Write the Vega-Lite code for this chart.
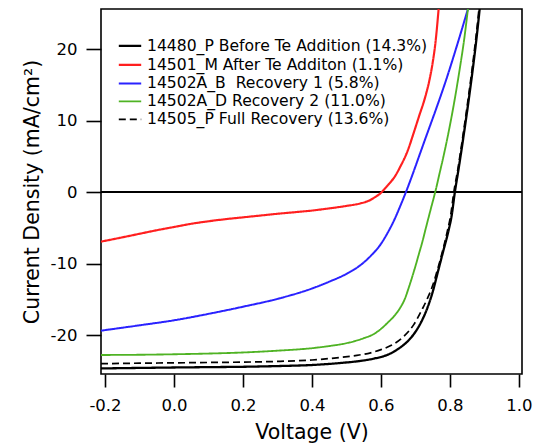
{
  "$schema": "https://vega.github.io/schema/vega-lite/v6.json",
  "width": 421,
  "height": 365,
  "autosize": {"type": "none"},
  "padding": {"left": 101, "top": 9, "right": 16, "bottom": 73},
  "background": "white",
  "config": {
    "view": {"stroke": "black", "strokeWidth": 1.6},
    "axis": {
      "grid": false,
      "domain": false,
      "ticks": true,
      "tickColor": "black",
      "tickWidth": 1.6,
      "labelFont": "DejaVu Sans",
      "labelFontSize": 16.5,
      "labelColor": "black",
      "titleFont": "DejaVu Sans",
      "titleFontSize": 20.5,
      "titleFontWeight": "normal",
      "titleColor": "black"
    },
    "legend": {
      "labelFont": "DejaVu Sans",
      "labelFontSize": 15.6,
      "labelColor": "black",
      "labelLimit": 500
    }
  },
  "data": {
    "values": [
      {"s": "14480_P Before Te Addition (14.3%)", "v": -0.2116, "j": -24.63},
      {"s": "14480_P Before Te Addition (14.3%)", "v": -0.1, "j": -24.56},
      {"s": "14480_P Before Te Addition (14.3%)", "v": 0.0, "j": -24.5},
      {"s": "14480_P Before Te Addition (14.3%)", "v": 0.1, "j": -24.45},
      {"s": "14480_P Before Te Addition (14.3%)", "v": 0.2, "j": -24.4},
      {"s": "14480_P Before Te Addition (14.3%)", "v": 0.3, "j": -24.3},
      {"s": "14480_P Before Te Addition (14.3%)", "v": 0.4, "j": -24.15},
      {"s": "14480_P Before Te Addition (14.3%)", "v": 0.48, "j": -23.88},
      {"s": "14480_P Before Te Addition (14.3%)", "v": 0.54, "j": -23.58},
      {"s": "14480_P Before Te Addition (14.3%)", "v": 0.58, "j": -23.25},
      {"s": "14480_P Before Te Addition (14.3%)", "v": 0.62, "j": -22.7},
      {"s": "14480_P Before Te Addition (14.3%)", "v": 0.65, "j": -21.9},
      {"s": "14480_P Before Te Addition (14.3%)", "v": 0.68, "j": -20.7},
      {"s": "14480_P Before Te Addition (14.3%)", "v": 0.7, "j": -19.5},
      {"s": "14480_P Before Te Addition (14.3%)", "v": 0.72, "j": -17.8},
      {"s": "14480_P Before Te Addition (14.3%)", "v": 0.735, "j": -16.1},
      {"s": "14480_P Before Te Addition (14.3%)", "v": 0.75, "j": -13.9},
      {"s": "14480_P Before Te Addition (14.3%)", "v": 0.765, "j": -11.1},
      {"s": "14480_P Before Te Addition (14.3%)", "v": 0.78, "j": -8.3},
      {"s": "14480_P Before Te Addition (14.3%)", "v": 0.795, "j": -5.5},
      {"s": "14480_P Before Te Addition (14.3%)", "v": 0.805, "j": -3.2},
      {"s": "14480_P Before Te Addition (14.3%)", "v": 0.814, "j": 0.0},
      {"s": "14480_P Before Te Addition (14.3%)", "v": 0.825, "j": 3.3},
      {"s": "14480_P Before Te Addition (14.3%)", "v": 0.84, "j": 8.1},
      {"s": "14480_P Before Te Addition (14.3%)", "v": 0.855, "j": 13.2},
      {"s": "14480_P Before Te Addition (14.3%)", "v": 0.867, "j": 17.6},
      {"s": "14480_P Before Te Addition (14.3%)", "v": 0.877, "j": 21.6},
      {"s": "14480_P Before Te Addition (14.3%)", "v": 0.886, "j": 25.64},

      {"s": "14501_M After Te Additon (1.1%)", "v": -0.2116, "j": -6.9},
      {"s": "14501_M After Te Additon (1.1%)", "v": -0.15, "j": -6.3},
      {"s": "14501_M After Te Additon (1.1%)", "v": -0.1, "j": -5.8},
      {"s": "14501_M After Te Additon (1.1%)", "v": -0.05, "j": -5.3},
      {"s": "14501_M After Te Additon (1.1%)", "v": 0.0, "j": -4.85},
      {"s": "14501_M After Te Additon (1.1%)", "v": 0.05, "j": -4.4},
      {"s": "14501_M After Te Additon (1.1%)", "v": 0.1, "j": -4.05},
      {"s": "14501_M After Te Additon (1.1%)", "v": 0.15, "j": -3.75},
      {"s": "14501_M After Te Additon (1.1%)", "v": 0.2, "j": -3.5},
      {"s": "14501_M After Te Additon (1.1%)", "v": 0.25, "j": -3.25},
      {"s": "14501_M After Te Additon (1.1%)", "v": 0.3, "j": -3.0},
      {"s": "14501_M After Te Additon (1.1%)", "v": 0.35, "j": -2.78},
      {"s": "14501_M After Te Additon (1.1%)", "v": 0.4, "j": -2.55},
      {"s": "14501_M After Te Additon (1.1%)", "v": 0.45, "j": -2.25},
      {"s": "14501_M After Te Additon (1.1%)", "v": 0.5, "j": -1.9},
      {"s": "14501_M After Te Additon (1.1%)", "v": 0.54, "j": -1.55},
      {"s": "14501_M After Te Additon (1.1%)", "v": 0.568, "j": -1.1},
      {"s": "14501_M After Te Additon (1.1%)", "v": 0.585, "j": -0.6},
      {"s": "14501_M After Te Additon (1.1%)", "v": 0.597, "j": -0.2},
      {"s": "14501_M After Te Additon (1.1%)", "v": 0.607, "j": 0.3},
      {"s": "14501_M After Te Additon (1.1%)", "v": 0.62, "j": 1.0},
      {"s": "14501_M After Te Additon (1.1%)", "v": 0.64, "j": 2.2},
      {"s": "14501_M After Te Additon (1.1%)", "v": 0.655, "j": 3.5},
      {"s": "14501_M After Te Additon (1.1%)", "v": 0.678, "j": 5.9},
      {"s": "14501_M After Te Additon (1.1%)", "v": 0.694, "j": 8.2},
      {"s": "14501_M After Te Additon (1.1%)", "v": 0.71, "j": 10.6},
      {"s": "14501_M After Te Additon (1.1%)", "v": 0.728, "j": 13.3},
      {"s": "14501_M After Te Additon (1.1%)", "v": 0.74, "j": 15.6},
      {"s": "14501_M After Te Additon (1.1%)", "v": 0.75, "j": 18.2},
      {"s": "14501_M After Te Additon (1.1%)", "v": 0.758, "j": 21.0},
      {"s": "14501_M After Te Additon (1.1%)", "v": 0.767, "j": 25.64},

      {"s": "14502A_B\u00a0 Recovery 1 (5.8%)", "v": -0.2116, "j": -19.35},
      {"s": "14502A_B\u00a0 Recovery 1 (5.8%)", "v": -0.1, "j": -18.6},
      {"s": "14502A_B\u00a0 Recovery 1 (5.8%)", "v": 0.0, "j": -17.9},
      {"s": "14502A_B\u00a0 Recovery 1 (5.8%)", "v": 0.1, "j": -17.0},
      {"s": "14502A_B\u00a0 Recovery 1 (5.8%)", "v": 0.2, "j": -16.0},
      {"s": "14502A_B\u00a0 Recovery 1 (5.8%)", "v": 0.3, "j": -14.9},
      {"s": "14502A_B\u00a0 Recovery 1 (5.8%)", "v": 0.4, "j": -13.45},
      {"s": "14502A_B\u00a0 Recovery 1 (5.8%)", "v": 0.45, "j": -12.5},
      {"s": "14502A_B\u00a0 Recovery 1 (5.8%)", "v": 0.5, "j": -11.4},
      {"s": "14502A_B\u00a0 Recovery 1 (5.8%)", "v": 0.54, "j": -10.2},
      {"s": "14502A_B\u00a0 Recovery 1 (5.8%)", "v": 0.57, "j": -8.9},
      {"s": "14502A_B\u00a0 Recovery 1 (5.8%)", "v": 0.6, "j": -7.2},
      {"s": "14502A_B\u00a0 Recovery 1 (5.8%)", "v": 0.62, "j": -5.6},
      {"s": "14502A_B\u00a0 Recovery 1 (5.8%)", "v": 0.64, "j": -3.7},
      {"s": "14502A_B\u00a0 Recovery 1 (5.8%)", "v": 0.656, "j": -1.9},
      {"s": "14502A_B\u00a0 Recovery 1 (5.8%)", "v": 0.672, "j": 0.0},
      {"s": "14502A_B\u00a0 Recovery 1 (5.8%)", "v": 0.69, "j": 2.3},
      {"s": "14502A_B\u00a0 Recovery 1 (5.8%)", "v": 0.71, "j": 5.0},
      {"s": "14502A_B\u00a0 Recovery 1 (5.8%)", "v": 0.73, "j": 7.7},
      {"s": "14502A_B\u00a0 Recovery 1 (5.8%)", "v": 0.76, "j": 11.7},
      {"s": "14502A_B\u00a0 Recovery 1 (5.8%)", "v": 0.79, "j": 15.9},
      {"s": "14502A_B\u00a0 Recovery 1 (5.8%)", "v": 0.82, "j": 20.5},
      {"s": "14502A_B\u00a0 Recovery 1 (5.8%)", "v": 0.852, "j": 25.64},

      {"s": "14502A_D Recovery 2 (11.0%)", "v": -0.2116, "j": -22.75},
      {"s": "14502A_D Recovery 2 (11.0%)", "v": -0.1, "j": -22.72},
      {"s": "14502A_D Recovery 2 (11.0%)", "v": 0.0, "j": -22.65},
      {"s": "14502A_D Recovery 2 (11.0%)", "v": 0.1, "j": -22.55},
      {"s": "14502A_D Recovery 2 (11.0%)", "v": 0.2, "j": -22.4},
      {"s": "14502A_D Recovery 2 (11.0%)", "v": 0.3, "j": -22.15},
      {"s": "14502A_D Recovery 2 (11.0%)", "v": 0.4, "j": -21.8},
      {"s": "14502A_D Recovery 2 (11.0%)", "v": 0.45, "j": -21.5},
      {"s": "14502A_D Recovery 2 (11.0%)", "v": 0.5, "j": -21.1},
      {"s": "14502A_D Recovery 2 (11.0%)", "v": 0.55, "j": -20.4},
      {"s": "14502A_D Recovery 2 (11.0%)", "v": 0.58, "j": -19.8},
      {"s": "14502A_D Recovery 2 (11.0%)", "v": 0.6, "j": -19.1},
      {"s": "14502A_D Recovery 2 (11.0%)", "v": 0.62, "j": -18.2},
      {"s": "14502A_D Recovery 2 (11.0%)", "v": 0.64, "j": -17.2},
      {"s": "14502A_D Recovery 2 (11.0%)", "v": 0.655, "j": -16.2},
      {"s": "14502A_D Recovery 2 (11.0%)", "v": 0.67, "j": -14.8},
      {"s": "14502A_D Recovery 2 (11.0%)", "v": 0.68, "j": -13.4},
      {"s": "14502A_D Recovery 2 (11.0%)", "v": 0.69, "j": -11.9},
      {"s": "14502A_D Recovery 2 (11.0%)", "v": 0.7, "j": -10.3},
      {"s": "14502A_D Recovery 2 (11.0%)", "v": 0.71, "j": -8.6},
      {"s": "14502A_D Recovery 2 (11.0%)", "v": 0.72, "j": -6.9},
      {"s": "14502A_D Recovery 2 (11.0%)", "v": 0.73, "j": -5.0},
      {"s": "14502A_D Recovery 2 (11.0%)", "v": 0.745, "j": -2.2},
      {"s": "14502A_D Recovery 2 (11.0%)", "v": 0.757, "j": 0.0},
      {"s": "14502A_D Recovery 2 (11.0%)", "v": 0.77, "j": 2.7},
      {"s": "14502A_D Recovery 2 (11.0%)", "v": 0.781, "j": 5.0},
      {"s": "14502A_D Recovery 2 (11.0%)", "v": 0.795, "j": 8.2},
      {"s": "14502A_D Recovery 2 (11.0%)", "v": 0.81, "j": 12.0},
      {"s": "14502A_D Recovery 2 (11.0%)", "v": 0.829, "j": 17.5},
      {"s": "14502A_D Recovery 2 (11.0%)", "v": 0.84, "j": 21.0},
      {"s": "14502A_D Recovery 2 (11.0%)", "v": 0.852, "j": 25.64},

      {"s": "14505_P Full Recovery (13.6%)", "v": -0.2116, "j": -23.97},
      {"s": "14505_P Full Recovery (13.6%)", "v": -0.1, "j": -23.9},
      {"s": "14505_P Full Recovery (13.6%)", "v": 0.0, "j": -23.85},
      {"s": "14505_P Full Recovery (13.6%)", "v": 0.1, "j": -23.8},
      {"s": "14505_P Full Recovery (13.6%)", "v": 0.2, "j": -23.75},
      {"s": "14505_P Full Recovery (13.6%)", "v": 0.3, "j": -23.65},
      {"s": "14505_P Full Recovery (13.6%)", "v": 0.4, "j": -23.45},
      {"s": "14505_P Full Recovery (13.6%)", "v": 0.48, "j": -23.1},
      {"s": "14505_P Full Recovery (13.6%)", "v": 0.53, "j": -22.8},
      {"s": "14505_P Full Recovery (13.6%)", "v": 0.57, "j": -22.45},
      {"s": "14505_P Full Recovery (13.6%)", "v": 0.6, "j": -22.0},
      {"s": "14505_P Full Recovery (13.6%)", "v": 0.63, "j": -21.4},
      {"s": "14505_P Full Recovery (13.6%)", "v": 0.665, "j": -20.2},
      {"s": "14505_P Full Recovery (13.6%)", "v": 0.695, "j": -18.5},
      {"s": "14505_P Full Recovery (13.6%)", "v": 0.72, "j": -16.3},
      {"s": "14505_P Full Recovery (13.6%)", "v": 0.735, "j": -14.8},
      {"s": "14505_P Full Recovery (13.6%)", "v": 0.75, "j": -13.0},
      {"s": "14505_P Full Recovery (13.6%)", "v": 0.762, "j": -11.1},
      {"s": "14505_P Full Recovery (13.6%)", "v": 0.778, "j": -8.3},
      {"s": "14505_P Full Recovery (13.6%)", "v": 0.792, "j": -5.5},
      {"s": "14505_P Full Recovery (13.6%)", "v": 0.802, "j": -3.2},
      {"s": "14505_P Full Recovery (13.6%)", "v": 0.811, "j": 0.0},
      {"s": "14505_P Full Recovery (13.6%)", "v": 0.823, "j": 3.3},
      {"s": "14505_P Full Recovery (13.6%)", "v": 0.838, "j": 8.1},
      {"s": "14505_P Full Recovery (13.6%)", "v": 0.853, "j": 13.2},
      {"s": "14505_P Full Recovery (13.6%)", "v": 0.865, "j": 17.6},
      {"s": "14505_P Full Recovery (13.6%)", "v": 0.875, "j": 21.6},
      {"s": "14505_P Full Recovery (13.6%)", "v": 0.884, "j": 25.64}
    ]
  },
  "layer": [
    {
      "mark": {"type": "rule", "color": "black", "strokeWidth": 1.6},
      "encoding": {"y": {"datum": 0, "type": "quantitative"}}
    },
    {
      "mark": {"type": "line", "clip": true, "interpolate": "monotone"},
      "encoding": {
        "x": {
          "field": "v",
          "type": "quantitative",
          "scale": {"domain": [-0.2116, 1.0087], "nice": false, "zero": false},
          "axis": {
            "title": "Voltage (V)",
            "values": [-0.2, 0, 0.2, 0.4, 0.6, 0.8, 1.0],
            "labelExpr": "datum.value < 0 ? '-' + format(-datum.value, '.1f') : format(datum.value, '.1f')",
            "tickSize": 13,
            "labelPadding": 10,
            "titlePadding": 9
          }
        },
        "y": {
          "field": "j",
          "type": "quantitative",
          "scale": {"domain": [-25.41, 25.64], "nice": false, "zero": false},
          "axis": {
            "title": "Current Density (mA/cm²)",
            "values": [-20, -10, 0, 10, 20],
            "labelExpr": "datum.value < 0 ? '-' + format(-datum.value, 'd') : format(datum.value, 'd')",
            "tickSize": 15,
            "labelPadding": 9,
            "titlePadding": 8
          }
        },
        "color": {
          "field": "s",
          "type": "nominal",
          "sort": null,
          "scale": {
            "domain": ["14480_P Before Te Addition (14.3%)", "14501_M After Te Additon (1.1%)", "14502A_B\u00a0 Recovery 1 (5.8%)", "14502A_D Recovery 2 (11.0%)", "14505_P Full Recovery (13.6%)"],
            "range": ["#000000", "#ff1f1f", "#2a22ff", "#4fb324", "#000000"]
          },
          "legend": {
            "title": null,
            "orient": "none",
            "legendX": 19.5,
            "legendY": 27.4,
            "padding": 0,
            "symbolType": "M-1.4,0H1.4",
            "symbolSize": 256,
            "symbolStrokeWidth": 2,
            "symbolFillColor": "transparent",
            "labelOffset": 7.5,
            "rowPadding": 0,
            "labelFont": "DejaVu Sans",
            "labelFontSize": 15.6,
            "labelColor": "black",
            "labelLimit": 500
          }
        },
        "strokeDash": {
          "field": "s",
          "type": "nominal",
          "sort": null,
          "scale": {
            "domain": ["14480_P Before Te Addition (14.3%)", "14501_M After Te Additon (1.1%)", "14502A_B\u00a0 Recovery 1 (5.8%)", "14502A_D Recovery 2 (11.0%)", "14505_P Full Recovery (13.6%)"],
            "range": [[1, 0], [1, 0], [1, 0], [1, 0], [7, 4]]
          },
          "legend": {
            "title": null,
            "orient": "none",
            "legendX": 19.5,
            "legendY": 27.4,
            "padding": 0,
            "symbolType": "M-1.4,0H1.4",
            "symbolSize": 256,
            "symbolStrokeWidth": 2,
            "symbolFillColor": "transparent",
            "labelOffset": 7.5,
            "rowPadding": 0,
            "labelFont": "DejaVu Sans",
            "labelFontSize": 15.6,
            "labelColor": "black",
            "labelLimit": 500
          }
        },
        "strokeWidth": {
          "field": "s",
          "type": "nominal",
          "sort": null,
          "scale": {
            "domain": ["14480_P Before Te Addition (14.3%)", "14501_M After Te Additon (1.1%)", "14502A_B\u00a0 Recovery 1 (5.8%)", "14502A_D Recovery 2 (11.0%)", "14505_P Full Recovery (13.6%)"],
            "range": [2.3, 1.7, 1.7, 1.7, 2.3]
          },
          "legend": null
        }
      }
    }
  ]
}
